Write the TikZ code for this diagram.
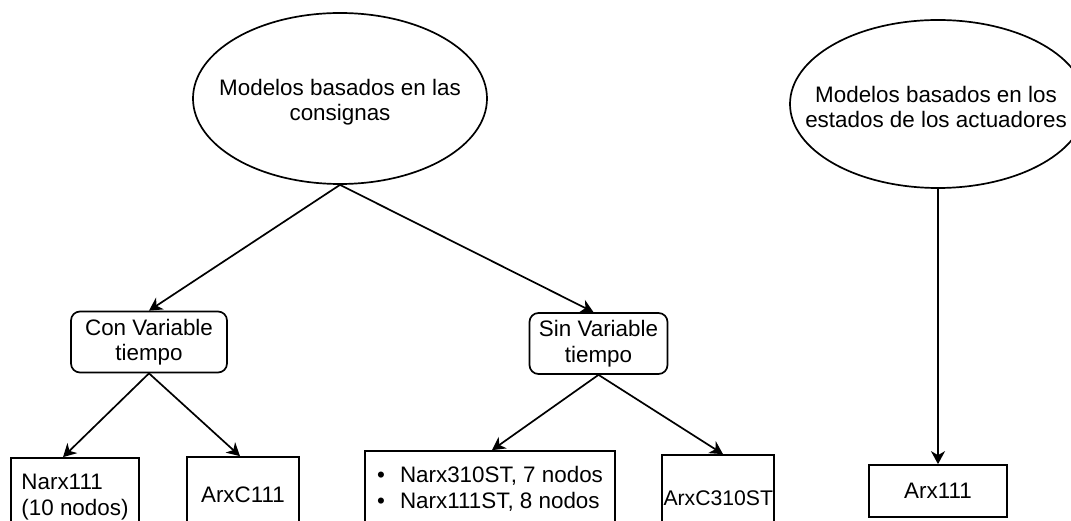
\documentclass[tikz,border=0pt]{standalone}
\usepackage{fontspec}
\setmainfont{Liberation Sans}
\usetikzlibrary{shapes.geometric,arrows.meta}
\begin{document}
\begin{tikzpicture}[x=1pt,y=-1pt,
  every node/.style={font=\fontsize{22.4}{25.5}\selectfont},
  shp/.style={draw, line width=1.7pt, inner sep=0pt},
  ell/.style={shp, ellipse},
  txt/.style={align=center, inner sep=0pt},
  rbox/.style={shp, rectangle, rounded corners=9pt, align=center},
  sbox/.style={shp, rectangle, align=left},
  arr/.style={line width=1.7pt, -{Stealth[length=13pt,width=14pt,inset=4pt]}}]
\useasboundingbox (0,0) rectangle (1071,521);

% top level
\node[ell, minimum width=294pt, minimum height=171pt] (e1) at (340,98.5) {};
\node[txt] (e1t) at (340,102) {Modelos basados en las\\consignas};
\node[ell, minimum width=296pt, minimum height=168pt] (e2) at (938,104) {};
\node[txt] (e2t) at (936,107) {Modelos basados en los\\estados de los actuadores};

% middle level
\node[rbox, minimum width=156pt, minimum height=61pt] (c1) at (149,342)
  {Con Variable\\tiempo};
\node[rbox, minimum width=138pt, minimum height=61pt] (c2) at (598.5,343.5)
  {Sin Variable\\tiempo};

% bottom level
\node[sbox, minimum width=128pt, minimum height=78pt] (b1) at (75,497)
  {Narx111\\(10 nodos)};
\node[sbox, minimum width=112pt, minimum height=76pt] (b2) at (243,495)
  {ArxC111};
\node[sbox, minimum width=250pt, minimum height=76pt] (b3) at (490,489)
  {\makebox[23pt][l]{\textbullet}Narx310ST, 7 nodos\\
   \makebox[23pt][l]{\textbullet}Narx111ST, 8 nodos};
\node[sbox, minimum width=112pt, minimum height=86pt] (b4) at (718,498)
  {\fontsize{21.2}{25}\selectfont\makebox[109pt][l]{ArxC310ST}};
\node[sbox, minimum width=138pt, minimum height=52pt] (a) at (938,491)
  {Arx111};

% connectors
\draw[arr] (e1.south) -- (c1.north);
\draw[arr] (e1.south) -- ([xshift=-5pt]c2.north);
\draw[arr] (c1.south) -- ([xshift=-12pt]b1.north);
\draw[arr] (c1.south) -- ([xshift=-3pt]b2.north);
\draw[arr] (c2.south) -- ([xshift=2pt]b3.north);
\draw[arr] (c2.south) -- ([xshift=5pt]b4.north);
\draw[arr] (e2.south) -- (a.north);
\end{tikzpicture}
\end{document}
